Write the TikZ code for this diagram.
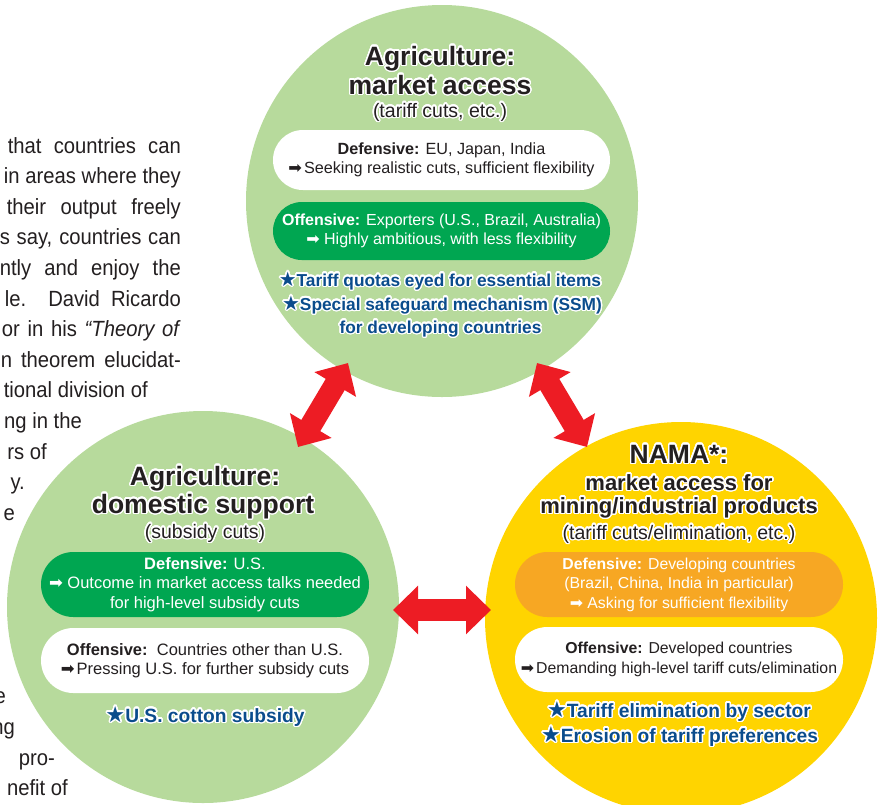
\documentclass[tikz,border=0pt]{standalone}
\usepackage{fontspec}
\setmainfont{Liberation Sans}
\newfontfamily\symfont{DejaVu Sans}
\newfontfamily\bodyfont[FakeStretch=0.92]{Liberation Sans}
\usepackage{contour}
\contourlength{1.4pt}
\contournumber{32}
\usetikzlibrary{arrows.meta}

\definecolor{leafgreen}{RGB}{183,218,156}
\definecolor{pillgreen}{RGB}{0,166,81}
\definecolor{sun}{RGB}{255,212,0}
\definecolor{amber}{RGB}{247,167,35}
\definecolor{alarm}{RGB}{237,28,36}
\definecolor{navy}{RGB}{10,76,140}
\definecolor{ink}{RGB}{35,31,32}

\newcommand{\halo}[1]{\contour{white}{#1}}
\newcommand{\rarr}{{\symfont\char"27A1}}
\newcommand{\bstar}{{\symfont\scalebox{1.15}{\char"2605}}}

\begin{document}
\begin{tikzpicture}[x=1pt,y=-1pt,
  body/.style={anchor=base east, inner sep=0pt, text=ink,
    font=\bodyfont\fontsize{22}{26}\selectfont},
  zone/.style={circle, minimum size=392pt, inner sep=0pt},
  pill/.style={rectangle, inner sep=0pt, align=center, minimum width=328pt},
  head/.style={anchor=base, inner sep=0pt, text=ink,
    font=\bfseries\fontsize{26.5}{30}\selectfont},
  midhead/.style={head, font=\bfseries\fontsize{22}{26}\selectfont},
  sub/.style={anchor=base, inner sep=0pt, text=ink,
    font=\fontsize{19.5}{22}\selectfont},
  note/.style={anchor=base, inner sep=0pt, text=navy,
    font=\bfseries\fontsize{19.2}{22}\selectfont},
  topnote/.style={note, font=\bfseries\fontsize{17.3}{21}\selectfont},
  link/.style={alarm, line width=22pt,
    {Triangle[length=25pt,width=47pt]}-{Triangle[length=25pt,width=47pt]}}
]
\useasboundingbox (0,0) rectangle (880,804);

% running text of the page, wrapped round the circles
\node[body] (b1) at (181,153) {\makebox[173pt][s]{that countries can}};
\node[body] (b2) at (181,183.6) {\makebox[177pt][s]{in areas where they}};
\node[body] (b3) at (181,214.2) {\makebox[174pt][s]{their output freely}};
\node[body] (b4) at (181,244.8) {\makebox[181pt][s]{s say, countries can}};
\node[body] (b5) at (181,275.4) {\makebox[181pt][s]{ntly and enjoy the}};
\node[body] (b6) at (181,306) {\makebox[176pt][s]{le.\ \ David Ricardo}};
\node[body] (b7) at (181,336.6) {\makebox[179pt][s]{or in his \textit{“Theory of}}};
\node[body] (b8) at (181,367.2) {\makebox[180pt][s]{n theorem elucidat-}};
\node[body] (b9) at (148,397.8) {tional division of};
\node[body] (b10) at (82,428.4) {ng in the};
\node[body] (b11) at (47,459) {rs of};
\node[body] (b12) at (25,489.6) {y.};
\node[body] (b13) at (15,520.2) {e};
\node[body] (b14) at (6,703.8) {e};
\node[body] (b15) at (15,734.4) {ng};
\node[body] (b16) at (55,765) {pro-};
\node[body] (b17) at (68,795.6) {nefit of};

% the three negotiating areas
\node[zone, fill=leafgreen] (ma) at (442,201) {};
\node[zone, fill=leafgreen] (ds) at (203,607) {};
\node[zone, fill=sun] (nama) at (681,618) {};

% --- Agriculture: market access
\node[head] (ma1) at (440,65) {\halo{Agriculture:}};
\node[head] (ma2) at (440,94) {\halo{market access}};
\node[sub] (ma3) at (440,117) {\halo{(tariff cuts, etc.)}};
\node[pill, minimum width=337pt, minimum height=60pt, rounded corners=29.9pt,
  fill=white, text=ink, font=\fontsize{16.2}{19.5}\selectfont] (mad) at (441.5,160)
  {\textbf{Defensive:} EU, Japan, India\\\rarr\kern2pt Seeking realistic cuts, sufficient flexibility};
\node[pill, minimum width=337pt, minimum height=58pt, rounded corners=28.9pt,
  fill=pillgreen, text=white, font=\fontsize{16}{19.5}\selectfont] (mao) at (441.5,231)
  {\textbf{Offensive:} Exporters (U.S., Brazil, Australia)\\\rarr\ Highly ambitious, with less flexibility};
\node[topnote] (man1) at (440,286) {\halo{\bstar Tariff quotas eyed for essential items}};
\node[topnote] (man2) at (442,310) {\halo{\bstar Special safeguard mechanism (SSM)}};
\node[topnote] (man3) at (440.5,333) {\halo{for developing countries}};

% --- Agriculture: domestic support
\node[head] (ds1) at (205,485) {\halo{Agriculture:}};
\node[head] (ds2) at (203,513) {\halo{domestic support}};
\node[sub] (ds3) at (205,538) {\halo{(subsidy cuts)}};
\node[pill, minimum height=65pt, rounded corners=32.4pt,
  fill=pillgreen, text=white, font=\fontsize{16.5}{19.5}\selectfont] (dsd) at (205,584.5)
  {\textbf{Defensive:} U.S.\\\rarr\ Outcome in market access talks needed\\for high-level subsidy cuts};
\node[pill, minimum height=65pt, rounded corners=32.4pt,
  fill=white, text=ink, font=\fontsize{16.5}{19.5}\selectfont] (dso) at (205,660.5)
  {\textbf{Offensive:}\ \ Countries other than U.S.\\\rarr\kern2pt Pressing U.S. for further subsidy cuts};
\node[note] (dsn) at (205,722) {\halo{\bstar U.S. cotton subsidy}};

% --- NAMA
\node[head] (nm1) at (679,463) {\halo{NAMA*:}};
\node[midhead] (nm2) at (679,490) {\halo{market access for}};
\node[midhead] (nm3) at (679,513) {\halo{mining/industrial products}};
\node[sub] (nm4) at (679,539) {\halo{(tariff cuts/elimination, etc.)}};
\node[pill, minimum height=65pt, rounded corners=32.4pt,
  fill=amber, text=white, font=\fontsize{15.8}{19.5}\selectfont] (nmd) at (679,584.5)
  {\textbf{Defensive:} Developing countries\\(Brazil, China, India in particular)\\\rarr\ Asking for sufficient flexibility};
\node[pill, minimum height=65pt, rounded corners=32.4pt,
  fill=white, text=ink, font=\fontsize{15.8}{19.5}\selectfont] (nmo) at (679,659.5)
  {\textbf{Offensive:} Developed countries\\\rarr\kern2pt Demanding high-level tariff cuts/elimination};
\node[note] (nmn1) at (679,717) {\halo{\bstar Tariff elimination by sector}};
\node[note] (nmn2) at (679.5,742) {\halo{\bstar Erosion of tariff preferences}};

% links between the areas
\coordinate (l1a) at (298,447);
\coordinate (l1b) at (348,363);
\coordinate (l2a) at (537,363);
\coordinate (l2b) at (587,447);
\coordinate (l3a) at (393,610);
\coordinate (l3b) at (491,610);
\draw[link] (l1a) -- (l1b);
\draw[link] (l2a) -- (l2b);
\draw[link] (l3a) -- (l3b);
\end{tikzpicture}
\end{document}
